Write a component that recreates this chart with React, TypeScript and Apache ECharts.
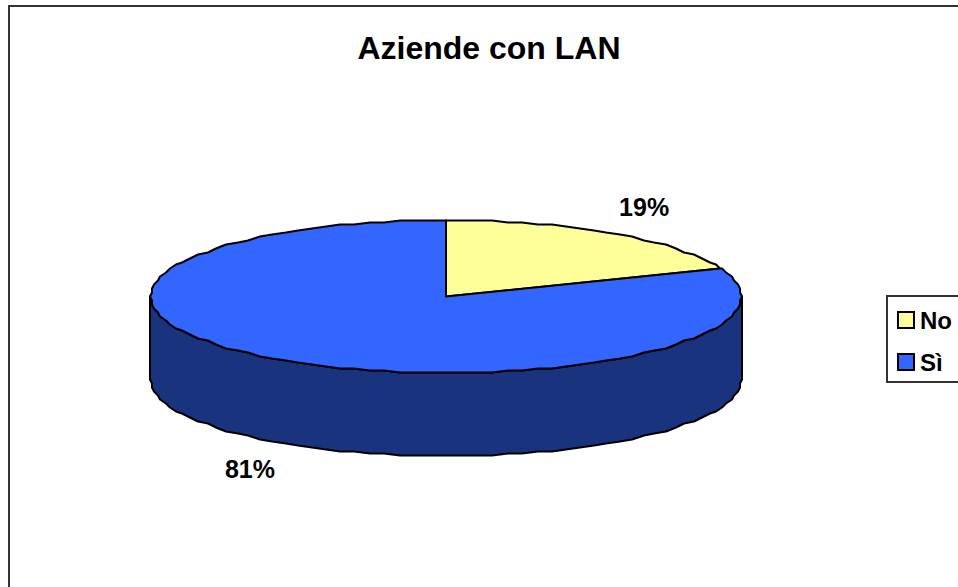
import React, { useEffect, useRef } from "react";
import * as echarts from "echarts";

const title = "Aziende con LAN";
const categories = ["No", "Sì"];
const values = [19, 81];
const topColors = ["#FFFF99", "#3366FF"];
const sideColor = "#1A337F";

const FONT = '"Liberation Sans", Arial, sans-serif';
const CX = 446;
const CY = 296.5;
const RX = 295.4;
const RY = 76.5;
const DEPTH = 83;
const STEP = 3;
const GRID = 2;

const snap = (v: number) => Math.round(v / GRID) * GRID;
const pt = (deg: number, dy = 0): number[] => {
  const a = (deg * Math.PI) / 180;
  const x = RX * Math.sin(a);
  const y = -RY * Math.cos(a);
  return [snap(x) + CX, snap(y) + CY + dy];
};
const arc = (from: number, to: number, dy = 0): number[][] => {
  const pts: number[][] = [pt(from, dy)];
  for (let d = Math.ceil(from / STEP + 0.01) * STEP; d < to; d += STEP) pts.push(pt(d, dy));
  pts.push(pt(to, dy));
  return pts;
};

const total = values.reduce((a, b) => a + b, 0);

const renderSlice = (index: number) => () => {
  const start = (values.slice(0, index).reduce((a, b) => a + b, 0) / total) * 360;
  const end = start + (values[index] / total) * 360;
  const mid = ((start + end) / 2) * (Math.PI / 180);
  const children: any[] = [];
  const sFrom = Math.max(start, 90);
  const sTo = Math.min(end, 270);
  if (sTo > sFrom) {
    const top = arc(sFrom, sTo);
    const bottom = arc(sFrom, sTo, DEPTH).reverse();
    children.push({
      type: "polygon",
      shape: { points: [...top, ...bottom] },
      style: { fill: sideColor, stroke: "#000", lineWidth: 2, lineJoin: "round" },
    });
  }
  children.push({
    type: "polygon",
    shape: { points: [[CX, CY], ...arc(start, end)] },
    style: { fill: topColors[index], stroke: "#000", lineWidth: 2, lineJoin: "round" },
  });
  const lower = Math.cos(mid) < 0;
  children.push({
    type: "text",
    x: CX + RX * 1.19 * Math.sin(mid) + (lower ? 1.5 : 0.5),
    y: CY - RY * 1.41 * Math.cos(mid) + (lower ? DEPTH : 0),
    style: {
      text: `${Math.round((values[index] / total) * 100)}%`,
      font: `bold 25px ${FONT}`,
      fill: "#000",
      align: "center",
      verticalAlign: "middle",
    },
  });
  return { type: "group", children };
};

export default function App() {
  const ref = useRef<HTMLDivElement>(null);
  useEffect(() => {
    document.body.style.margin = "0";
    const chart = echarts.init(ref.current!, null, { renderer: "svg" });
    chart.setOption({
      animation: false,
      backgroundColor: "#fff",
      title: {
        text: title,
        left: 489,
        top: 32,
        textAlign: "center",
        padding: 0,
        textStyle: { fontFamily: FONT, fontWeight: "bold", fontSize: 32, color: "#000" },
      },
      graphic: [
        {
          type: "rect",
          z: -1,
          shape: { x: 9, y: 6, width: 1100, height: 800 },
          style: { fill: "#fff", stroke: "#333", lineWidth: 2 },
          silent: true,
        },
      ],
      legend: {
        orient: "vertical",
        left: 887,
        top: 296,
        padding: [12, 10, 8, 10],
        itemGap: 18,
        itemWidth: 16,
        itemHeight: 16,
        icon: "rect",
        borderColor: "#333",
        borderWidth: 2,
        selectedMode: false,
        textStyle: { fontFamily: FONT, fontWeight: "bold", fontSize: 24, color: "#000", padding: [0, 0, 6, 1] },
        data: categories,
      },
      series: categories.map((name, i) => ({
        type: "custom",
        name,
        coordinateSystem: "none",
        silent: true,
        itemStyle: { color: topColors[i], borderColor: "#000", borderWidth: 2 },
        data: [values[i]],
        renderItem: renderSlice(i),
      })),
    });
    return () => chart.dispose();
  }, []);
  return <div ref={ref} style={{ width: 958, height: 587, overflow: "hidden" }} />;
}
